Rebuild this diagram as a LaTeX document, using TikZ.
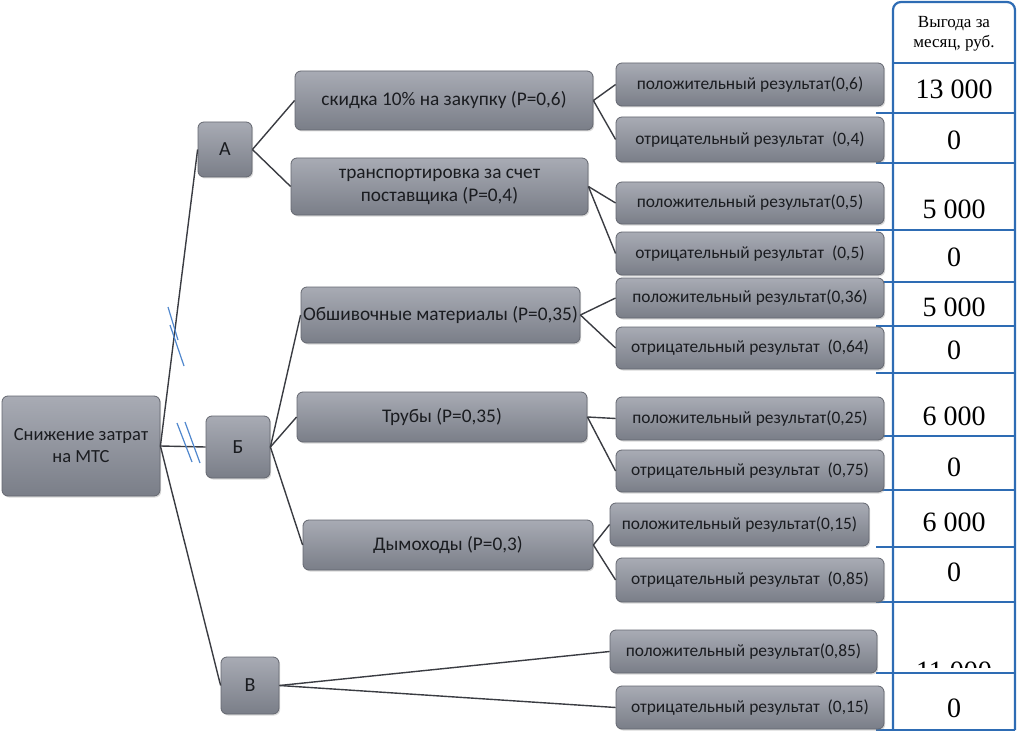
\documentclass[tikz,border=0pt]{standalone}
\usepackage{fontspec}
\setmainfont{Carlito}
\newfontfamily\tabfont{Liberation Serif}
\usepackage{tikz}
\usetikzlibrary{shadows}

\definecolor{boxtop}{RGB}{168,171,180}
\definecolor{boxbot}{RGB}{122,126,136}
\definecolor{boxline}{RGB}{100,103,112}
\definecolor{boxtext}{RGB}{26,28,32}
\definecolor{conline}{RGB}{58,60,66}
\definecolor{tabblue}{RGB}{46,108,180}
\definecolor{hashblue}{RGB}{80,135,205}

\begin{document}
\begin{tikzpicture}[
  x=1pt, y=-1pt,
  box/.style={draw=boxline, line width=0.8pt, rounded corners=6pt, top color=boxtop, bottom color=boxbot,
    text=boxtext, align=center, inner sep=0pt,
    drop shadow={shadow xshift=1.2pt, shadow yshift=-1.5pt, opacity=0.3}},
  root/.style={box, font=\fontsize{18.5}{22}\selectfont},
  letter/.style={box, font=\fontsize{20}{22}\selectfont},
  option/.style={box, font=\fontsize{19.3}{23}\selectfont, minimum height=50pt},
  res/.style={box, font=\fontsize{17.4}{20}\selectfont, minimum width=268pt, minimum height=43pt},
  con/.style={draw=conline, line width=1.4pt},
  hash/.style={draw=hashblue, line width=1.2pt},
  grid/.style={draw=tabblue, line width=2.2pt},
  val/.style={font=\tabfont\fontsize{28}{30}\selectfont, text=black, inner sep=0pt}
]
\useasboundingbox (0,0) rectangle (1018,733);

% table of values
\fill[white] (893,2) rectangle (1015,730);
\draw[grid, rounded corners=8pt] (893,730) -- (893,2) -- (1015,2) -- (1015,730);
\draw[grid] (893,63) -- (1015,63);
\foreach \y in {113,163,230,282,326,373,436,490,547,602,673,730}
  \draw[grid] (876,\y) -- (1015,\y);
\node[align=center, inner sep=0pt, font=\tabfont\fontsize{17}{19.5}\selectfont] (head) at (954,34) {Выгода за\\месяц, руб.};
\node[val] (v1) at (954,89) {13 000};
\node[val] (v2) at (954,140) {0};
\node[val] (v3) at (954,209) {5 000};
\node[val] (v4) at (954,257) {0};
\node[val] (v5) at (954,307) {5 000};
\node[val] (v6) at (954,350) {0};
\node[val] (v7) at (954,416) {6 000};
\node[val] (v8) at (954,467) {0};
\node[val] (v9) at (954,522) {6 000};
\node[val] (v10) at (954,572) {0};
\begin{scope}
  \clip (895,604) rectangle (1013,667);
  \node[val] (v11) at (954,671) {11 000};
\end{scope}
\node[val] (v12) at (954,708) {0};

% tree
\node[root, minimum width=158pt, minimum height=100pt] (cut) at (81,446) {Снижение затрат\\на МТС};
\node[letter, minimum width=54pt, minimum height=55pt] (a) at (225,149.5) {А};
\node[letter, minimum width=64pt, minimum height=62pt] (b) at (238,447) {Б};
\node[letter, minimum width=58pt, minimum height=57pt] (v) at (250,685.5) {В};

\node[option, minimum width=298pt, minimum height=59pt] (disc) at (444,100.5) {скидка 10\% на закупку (Р=0,6)};
\node[option, minimum width=297pt, minimum height=57pt] (trans) at (439.5,186.5) {транспортировка за счет\\поставщика (Р=0,4)};
\node[option, minimum width=279pt, minimum height=56pt] (sheath) at (440.5,315) {Обшивочные материалы (Р=0,35)};
\node[option, minimum width=290pt] (pipes) at (442,417) {Трубы (Р=0,35)};
\node[option, minimum width=290pt] (flues) at (448,545) {Дымоходы (Р=0,3)};

\node[res] (r1) at (750,84.5) {положительный результат(0,6)};
\node[res, minimum height=45pt] (r2) at (750,139.5) {отрицательный результат\ \ (0,4)};
\node[res, minimum height=42pt] (r3) at (750,203) {положительный результат(0,5)};
\node[res] (r4) at (750,253.5) {отрицательный результат\ \ (0,5)};
\node[res, minimum height=40pt] (r5) at (750,298) {положительный результат(0,36)};
\node[res, minimum height=42pt] (r6) at (750,348) {отрицательный результат\ \ (0,64)};
\node[res] (r7) at (750,418.5) {положительный результат(0,25)};
\node[res, minimum height=42pt] (r8) at (750,471) {отрицательный результат\ \ (0,75)};
\node[res, minimum width=259pt] (r9) at (739.5,524.5) {положительный результат(0,15)};
\node[res, minimum height=44pt] (r10) at (750,580) {отрицательный результат\ \ (0,85)};
\node[res, minimum width=267pt] (r11) at (743.5,651.5) {положительный результат(0,85)};
\node[res] (r12) at (750,707.5) {отрицательный результат\ \ (0,15)};

\draw[con] (cut.east) -- (a.west);
\draw[con] (cut.east) -- (b.west);
\draw[con] (cut.east) -- (v.west);
\draw[con] (a.east) -- (disc.west);
\draw[con] (a.east) -- (trans.west);
\draw[con] (b.east) -- (sheath.west);
\draw[con] (b.east) -- (pipes.west);
\draw[con] (b.east) -- (flues.west);
\draw[con] (v.east) -- (r11.west);
\draw[con] (v.east) -- (r12.west);
\draw[con] (disc.east) -- (r1.west);
\draw[con] (disc.east) -- (r2.west);
\draw[con] (trans.east) -- (r3.west);
\draw[con] (trans.east) -- (r4.west);
\draw[con] (sheath.east) -- (r5.west);
\draw[con] (sheath.east) -- (r6.west);
\draw[con] (pipes.east) -- (r7.west);
\draw[con] (pipes.east) -- (r8.west);
\draw[con] (flues.east) -- (r9.west);
\draw[con] (flues.east) -- (r10.west);

% double slashes
\draw[hash] (168,307) -- (178,340);
\draw[hash] (170,325) -- (184,366);
\draw[hash] (177,423) -- (192,462);
\draw[hash] (185,422) -- (200,463);
\end{tikzpicture}
\end{document}
